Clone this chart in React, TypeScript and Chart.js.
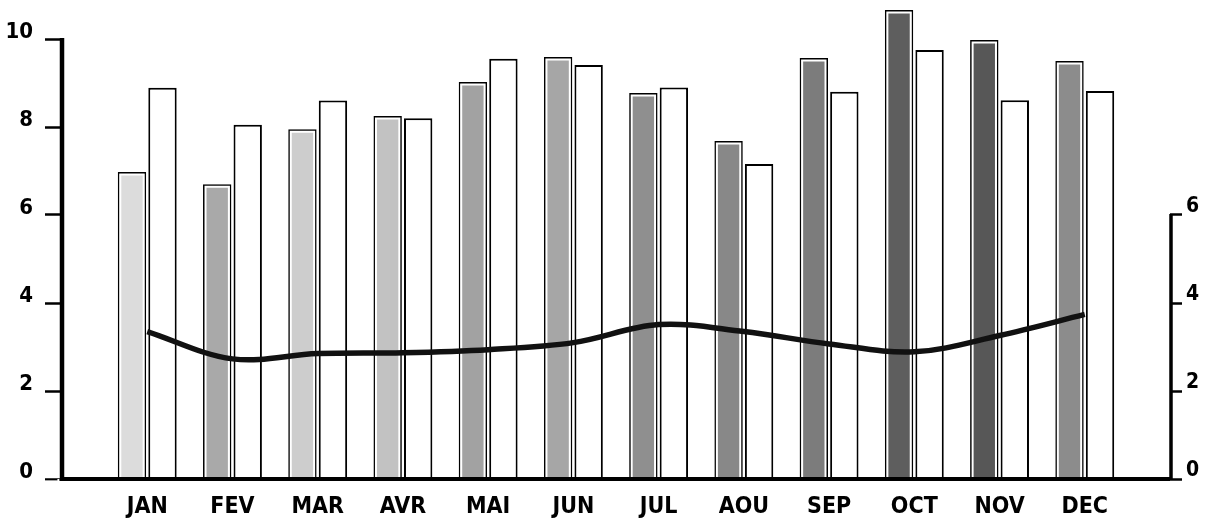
import React, { useEffect, useRef } from 'react';
import { Chart, registerables } from 'chart.js';

Chart.register(...registerables);

const months = ['JAN', 'FEV', 'MAR', 'AVR', 'MAI', 'JUN', 'JUL', 'AOU', 'SEP', 'OCT', 'NOV', 'DEC'];
const shadedBars = [6.98, 6.7, 7.95, 8.25, 9.02, 9.59, 8.77, 7.68, 9.57, 10.66, 9.98, 9.5];
const whiteBars = [8.89, 8.05, 8.6, 8.2, 9.55, 9.41, 8.9, 7.16, 8.8, 9.75, 8.61, 8.82];
const lineValues = [3.35, 2.73, 2.85, 2.87, 2.94, 3.1, 3.51, 3.35, 3.07, 2.89, 3.26, 3.74];
const leftTicks = [0, 2, 4, 6, 8, 10];
const rightTicks = [0, 2, 4, 6];

const shades = ['#dcdcdc', '#a9a9a9', '#cdcdcd', '#c2c2c2', '#a2a2a2', '#a6a6a6', '#8f8f8f', '#888888', '#7c7c7c', '#5e5e5e', '#575757', '#8c8c8c'];

const FONT = "'Liberation Sans Narrow', 'DejaVu Sans Condensed', 'Arial Narrow', sans-serif";
const YMAX = 479 / 44;

const axisLines = {
  id: 'axisLines',
  afterDatasetDraw(chart: any, args: any) {
    if (args.index !== 1) return;
    const ctx = chart.ctx;
    const meta = chart.getDatasetMeta(1);
    ctx.save();
    ctx.strokeStyle = '#ffffff';
    ctx.lineWidth = 2;
    meta.data.forEach((el: any) => {
      if (el.skip || el.y == null || isNaN(el.y)) return;
      const w = el.width;
      const x0 = el.x - w / 2 + 2.5;
      const x1 = el.x + w / 2 - 2.5;
      ctx.beginPath();
      ctx.moveTo(x0, el.base);
      ctx.lineTo(x0, el.y + 2.5);
      ctx.lineTo(x1, el.y + 2.5);
      ctx.lineTo(x1, el.base);
      ctx.stroke();
    });
    ctx.restore();
  },
  afterDatasetsDraw(chart: any) {
    const ctx = chart.ctx;
    const y = chart.scales.y;
    const y1 = chart.scales.y1;
    const area = chart.chartArea;
    ctx.save();
    ctx.strokeStyle = '#000';
    ctx.lineCap = 'butt';
    // left axis
    ctx.lineWidth = 4.5;
    ctx.beginPath();
    ctx.moveTo(area.left, y.getPixelForValue(10) - 1);
    ctx.lineTo(area.left, y.getPixelForValue(0) + 2);
    ctx.stroke();
    // bottom axis
    ctx.lineWidth = 4;
    ctx.beginPath();
    ctx.moveTo(area.left - 2, y.getPixelForValue(0));
    ctx.lineTo(area.right, y.getPixelForValue(0));
    ctx.stroke();
    // right axis
    ctx.lineWidth = 3.5;
    ctx.beginPath();
    ctx.moveTo(area.right + 1, y1.getPixelForValue(6) - 1);
    ctx.lineTo(area.right + 1, y1.getPixelForValue(0) + 1);
    ctx.stroke();
    ctx.restore();
  },
};

export default function App() {
  const ref = useRef<HTMLCanvasElement | null>(null);

  useEffect(() => {
    if (!ref.current) return;
    const labels = ['', ...months, ''];
    const pad = (arr: number[]) => [null, ...arr, null];
    const chart = new Chart(ref.current, {
      type: 'bar',
      data: {
        labels,
        datasets: [
          {
            type: 'line',
            data: pad(lineValues) as any,
            yAxisID: 'y1',
            borderColor: '#111',
            borderWidth: 5.5,
            pointRadius: 0,
            tension: 0.35,
            fill: false,
            order: 0,
          } as any,
          {
            type: 'bar',
            data: pad(shadedBars) as any,
            yAxisID: 'y',
            backgroundColor: ['#fff', ...shades, '#fff'],
            borderColor: '#000',
            borderWidth: 2,
            categoryPercentage: 0.716,
            barPercentage: 0.93,
            order: 1,
          },
          {
            type: 'bar',
            data: pad(whiteBars) as any,
            yAxisID: 'y',
            backgroundColor: '#fff',
            borderColor: '#000',
            borderWidth: 2,
            categoryPercentage: 0.716,
            barPercentage: 0.93,
            order: 1,
          },
        ],
      },
      options: {
        animation: false,
        responsive: true,
        maintainAspectRatio: false,
        layout: { padding: 0 },
        plugins: { legend: { display: false }, tooltip: { enabled: false } },
        scales: {
          x: {
            type: 'category',
            offset: false,
            grid: { display: false, drawTicks: false },
            border: { display: false },
            ticks: {
              autoSkip: false,
              maxRotation: 0,
              color: '#000',
              padding: 14,
              font: { family: FONT, size: 23, weight: 'bold' },
            },
            afterFit: (s: any) => {
              s.height = 42;
              s.paddingLeft = 0;
              s.paddingRight = 0;
            },
          },
          y: {
            position: 'left',
            min: 0,
            max: YMAX,
            afterBuildTicks: (s: any) => {
              s.ticks = leftTicks.map((v) => ({ value: v }));
            },
            grid: { drawOnChartArea: false, drawTicks: true, tickLength: 17, tickWidth: 2.5, color: '#000' },
            border: { display: false },
            ticks: {
              color: '#000',
              padding: 12,
              labelOffset: -7,
              font: { family: FONT, size: 22, weight: 'bold' },
            },
            afterFit: (s: any) => {
              s.width = 62;
              s.paddingTop = 0;
              s.paddingBottom = 0;
            },
          },
          y1: {
            position: 'right',
            min: 0,
            max: YMAX,
            afterBuildTicks: (s: any) => {
              s.ticks = rightTicks.map((v) => ({ value: v }));
            },
            grid: { drawOnChartArea: false, drawTicks: true, tickLength: 12, tickWidth: 2.5, color: '#000' },
            border: { display: false },
            ticks: {
              color: '#000',
              padding: 4,
              labelOffset: -8,
              font: { family: FONT, size: 21, weight: 'bold' },
            },
            afterFit: (s: any) => {
              s.width = 43;
              s.paddingTop = 0;
              s.paddingBottom = 0;
            },
          },
        },
      } as any,
      plugins: [axisLines],
    });
    return () => chart.destroy();
  }, []);

  return (
    <div style={{ position: 'fixed', left: 0, top: 0, width: 1213, height: 521, background: '#fff' }}>
      <canvas ref={ref} />
    </div>
  );
}
